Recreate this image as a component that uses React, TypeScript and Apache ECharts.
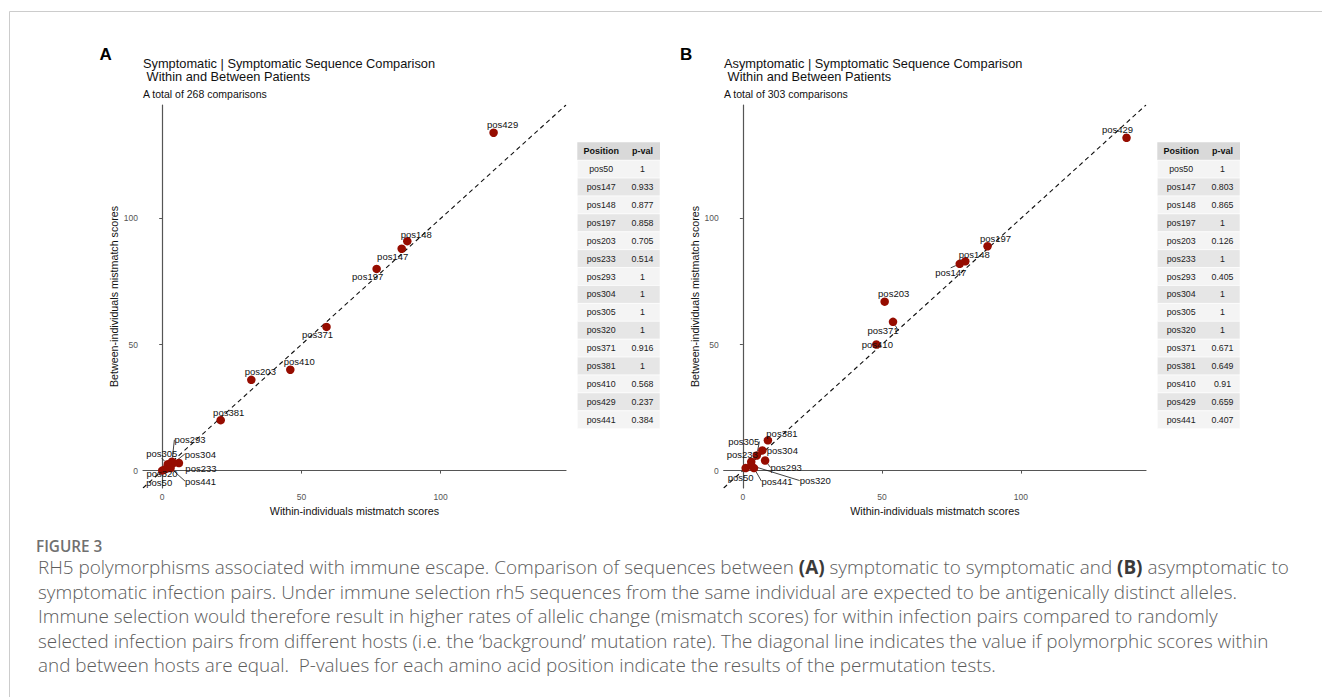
import React, { useEffect, useRef } from "react";
import * as echarts from "echarts";

// ---------- data ----------
const positions = [
  "pos50", "pos147", "pos148", "pos197", "pos203", "pos233", "pos293", "pos304",
  "pos305", "pos320", "pos371", "pos381", "pos410", "pos429", "pos441",
];

// Panel A: Symptomatic | Symptomatic
const withinA = [0, 86, 88, 77, 32, 6, 3.5, 4, 2, 1, 59, 21, 46, 119, 3];
const betweenA = [0, 88, 91, 80, 36, 3, 3.5, 3, 2.5, 0.5, 57, 20, 40, 134, 1];
const pvalA = ["1", "0.933", "0.877", "0.858", "0.705", "0.514", "1", "1", "1", "1", "0.916", "1", "0.568", "0.237", "0.384"];

// Panel B: Asymptomatic | Symptomatic
const withinB = [1, 78, 80, 88, 51, 3, 8, 7, 5, 3, 54, 9, 48, 138, 4];
const betweenB = [1, 82, 83, 89, 67, 3.5, 4, 8, 6, 2, 59, 12, 50, 132, 1];
const pvalB = ["1", "0.803", "0.865", "1", "0.126", "1", "0.405", "1", "1", "1", "0.671", "0.649", "0.91", "0.659", "0.407"];

const tickValues = [0, 50, 100];
const axisMin = -6.9;
const axisMax = 145;

const titleA = "Symptomatic | Symptomatic Sequence Comparison\n Within and Between Patients";
const subA = "A total of 268 comparisons";
const titleB = "Asymptomatic | Symptomatic Sequence Comparison\n Within and Between Patients";
const subB = "A total of 303 comparisons";
const xName = "Within-individuals mistmatch scores";
const yName = "Between-individuals mistmatch scores";
const tableHeader = ["Position", "p-val"];

const captionHead = "FIGURE 3";
const captionLines = [
  "RH5 polymorphisms associated with immune escape. Comparison of sequences between {b|(A)} symptomatic to symptomatic and {b|(B)} asymptomatic to",
  "symptomatic infection pairs. Under immune selection rh5 sequences from the same individual are expected to be antigenically distinct alleles.",
  "Immune selection would therefore result in higher rates of allelic change (mismatch scores) for within infection pairs compared to randomly",
  "selected infection pairs from different hosts (i.e. the \u2018background\u2019 mutation rate). The diagonal line indicates the value if polymorphic scores within",
  "and between hosts are equal.  P-values for each amino acid position indicate the results of the permutation tests.",
];

// ---------- layout (label offsets in px, with guide line flag) ----------
const labelOffA: [number, number, boolean][] = [
  [-3, 12, false], [-9, 8, false], [9, -7, false], [-9, 8, false], [9, -8, false],
  [22, 5, false], [18, -22, true], [27, -9, true], [-6, -11, true], [-3, 4, false],
  [-9, 8, false], [8, -8, false], [9, -8, false], [9, -8, false], [30, 13, true],
];
const labelOffB: [number, number, boolean][] = [
  [-5, 9, false], [-9, 9, true], [9, -7, false], [8, -8, false], [9, -8, false],
  [-9, -7, false], [21, 7, true], [20, 0, false], [-13, -14, true], [64, 15, true],
  [-10, 9, true], [14, -7, false], [1, 0, false], [-9, -8, false], [23, 13, true],
];

const FONT = "'Liberation Sans', Arial, sans-serif";
const CAP_FONT = "'Open Sans', sans-serif";
const PT_COLOR = "#960c00";

function buildTable(left: number, top: number, pvals: string[]) {
  const c1 = 47.7, c2 = 35, rowH = 17.9;
  const els: any[] = [];
  els.push({ type: "rect", shape: { x: left, y: top, width: c1 + c2, height: rowH }, style: { fill: "#d9d9d9" }, silent: true });
  els.push({ type: "text", x: left + c1 / 2, y: top + rowH / 2, style: { text: tableHeader[0], font: `bold 9px ${FONT}`, fill: "#111", align: "center", verticalAlign: "middle" } });
  els.push({ type: "text", x: left + c1 + c2 / 2, y: top + rowH / 2, style: { text: tableHeader[1], font: `bold 9px ${FONT}`, fill: "#111", align: "center", verticalAlign: "middle" } });
  positions.forEach((p, i) => {
    const y = top + rowH * (i + 1);
    els.push({ type: "rect", shape: { x: left, y, width: c1 + c2, height: rowH }, style: { fill: i % 2 === 0 ? "#f4f4f4" : "#e6e6e6", stroke: "#ffffff", lineWidth: 0.6 }, silent: true });
    els.push({ type: "text", x: left + c1 / 2, y: y + rowH / 2, style: { text: p, font: `8.8px ${FONT}`, fill: "#222", align: "center", verticalAlign: "middle" } });
    els.push({ type: "text", x: left + c1 + c2 / 2, y: y + rowH / 2, style: { text: pvals[i], font: `8.8px ${FONT}`, fill: "#222", align: "center", verticalAlign: "middle" } });
  });
  return els;
}

function scatterSeries(idx: number, xs: number[], ys: number[], offs: [number, number, boolean][]) {
  return {
    type: "scatter",
    xAxisIndex: idx,
    yAxisIndex: idx,
    symbolSize: 8.5,
    itemStyle: { color: PT_COLOR, opacity: 1 },
    z: 3,
    label: {
      show: true,
      position: "inside",
      formatter: (p: any) => positions[p.dataIndex],
      color: "#111",
      fontSize: 9.5,
      fontFamily: FONT,
    },
    labelLine: { show: false, lineStyle: { color: "#111", width: 0.8 } },
    labelLayout: (p: any) => ({ dx: offs[p.dataIndex][0], dy: offs[p.dataIndex][1] }),
    data: xs.map((x, i) => ({
      value: [x, ys[i]],
      labelLine: { show: offs[i][2], lineStyle: { color: "#111", width: 0.8 } },
    })),
  };
}

function diagSeries(idx: number) {
  return {
    type: "line",
    xAxisIndex: idx,
    yAxisIndex: idx,
    symbol: "none",
    silent: true,
    z: 1,
    lineStyle: { color: "#111", width: 1.1, type: [4.5, 3.5] },
    data: [[axisMin, axisMin], [axisMax, axisMax]],
  };
}

function xAxisCfg(idx: number) {
  return {
    type: "value",
    gridIndex: idx,
    min: axisMin,
    max: axisMax,
    name: xName,
    nameLocation: "middle",
    nameGap: 14,
    nameTextStyle: { color: "#111", fontSize: 10.7, fontFamily: FONT },
    axisLine: { show: true, lineStyle: { color: "#555", width: 1.2 } },
    axisTick: { show: true, length: 3, customValues: tickValues, lineStyle: { color: "#555" } },
    axisLabel: { customValues: tickValues, color: "#555", fontSize: 8.5, margin: 4, fontFamily: FONT },
    splitLine: { show: false },
  };
}

function yAxisCfg(idx: number) {
  return {
    type: "value",
    gridIndex: idx,
    min: axisMin,
    max: axisMax,
    name: yName,
    nameLocation: "middle",
    nameGap: 19,
    nameTextStyle: { color: "#111", fontSize: 10.7, fontFamily: FONT },
    axisLine: { show: true, lineStyle: { color: "#555", width: 1.2 } },
    axisTick: { show: true, length: 3, customValues: tickValues, lineStyle: { color: "#555" } },
    axisLabel: { customValues: tickValues, color: "#555", fontSize: 8.5, margin: 5, fontFamily: FONT },
    splitLine: { show: false },
  };
}

export default function App() {
  const ref = useRef<HTMLDivElement>(null);
  useEffect(() => {
    if (!ref.current) return;
    const chart = echarts.init(ref.current, undefined, { renderer: "svg" });
    const captionEls: any[] = [
      { type: "text", x: 36, y: 546, style: { text: captionHead, font: `600 15.3px ${CAP_FONT}`, fill: "#707070", verticalAlign: "middle" } },
      ...captionLines.map((t, i) => ({
        type: "text",
        x: 38,
        y: 567 + i * 24.5,
        style: {
          text: t,
          font: `300 18.9px ${CAP_FONT}`,
          fill: "#5c5c5c",
          verticalAlign: "middle",
          rich: { b: { fontWeight: "bold", fontSize: 18.9, fontFamily: CAP_FONT, fill: "#3a3a3a" } },
        },
      })),
    ];
    const option: any = {
      animation: false,
      backgroundColor: "#ffffff",
      textStyle: { fontFamily: FONT },
      title: [
        {
          text: titleA, subtext: subA, left: 143, top: 57, padding: 0, itemGap: 5,
          textStyle: { fontSize: 12.8, fontWeight: "normal", color: "#111", lineHeight: 13, fontFamily: FONT },
          subtextStyle: { fontSize: 10.5, color: "#111", lineHeight: 11, fontFamily: FONT },
        },
        {
          text: titleB, subtext: subB, left: 724, top: 57, padding: 0, itemGap: 5,
          textStyle: { fontSize: 12.8, fontWeight: "normal", color: "#111", lineHeight: 13, fontFamily: FONT },
          subtextStyle: { fontSize: 10.5, color: "#111", lineHeight: 11, fontFamily: FONT },
        },
      ],
      grid: [
        { left: 143, top: 105, width: 423, height: 383, containLabel: false },
        { left: 723.7, top: 105, width: 422.3, height: 383, containLabel: false },
      ],
      xAxis: [xAxisCfg(0), xAxisCfg(1)],
      yAxis: [yAxisCfg(0), yAxisCfg(1)],
      series: [
        diagSeries(0),
        diagSeries(1),
        scatterSeries(0, withinA, betweenA, labelOffA),
        scatterSeries(1, withinB, betweenB, labelOffB),
      ],
      graphic: [
        { type: "line", shape: { x1: 9.5, y1: 11.5, x2: 1322, y2: 11.5 }, style: { stroke: "#cccccc", lineWidth: 1 }, silent: true },
        { type: "line", shape: { x1: 9.5, y1: 11.5, x2: 9.5, y2: 697 }, style: { stroke: "#cccccc", lineWidth: 1 }, silent: true },
        { type: "text", x: 99.5, y: 54, style: { text: "A", font: `bold 17px ${FONT}`, fill: "#000", verticalAlign: "middle" } },
        { type: "text", x: 680, y: 54, style: { text: "B", font: `bold 17px ${FONT}`, fill: "#000", verticalAlign: "middle" } },
        ...buildTable(577.3, 142.3, pvalA),
        ...buildTable(1157.3, 142.3, pvalB),
        ...captionEls,
      ],
    };
    chart.setOption(option);
    return () => chart.dispose();
  }, []);
  return (
    <div
      ref={ref}
      style={{ position: "fixed", left: 0, top: 0, width: "1322px", height: "697px", background: "#fff" }}
    />
  );
}
